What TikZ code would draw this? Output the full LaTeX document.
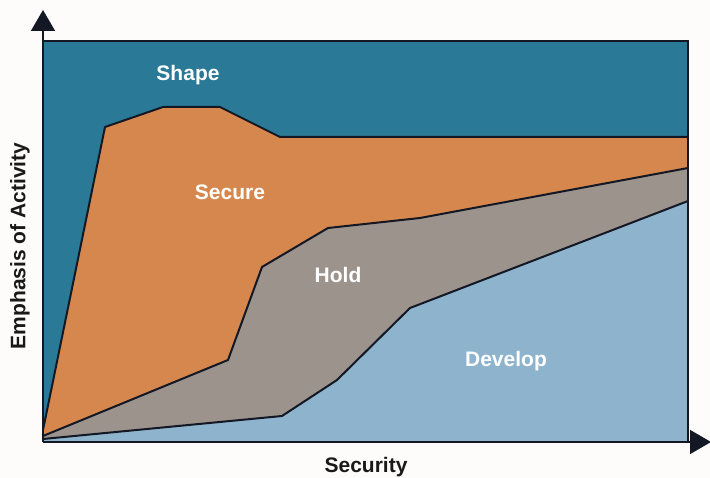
\documentclass[tikz,border=0pt]{standalone}
\usepackage{fontspec}
\setmainfont{Liberation Sans}
\usetikzlibrary{arrows.meta}
\definecolor{bgc}{HTML}{FDFCFA}
\definecolor{shapec}{HTML}{2A7A97}
\definecolor{securec}{HTML}{D6874D}
\definecolor{holdc}{HTML}{9C938D}
\definecolor{developc}{HTML}{8DB4CC}
\definecolor{edgec}{HTML}{141824}
\tikzset{
  boundary/.style={draw=edgec, line width=2pt, line join=round},
  lab/.style={text=white, font=\fontsize{21}{25}\selectfont\bfseries, inner sep=0pt},
  axlab/.style={text=black!90, font=\fontsize{21}{25}\selectfont\bfseries, inner sep=0pt},
  axis/.style={draw=edgec, line width=1.6pt, -{Triangle[width=24pt,length=21pt]}}
}
\begin{document}
\begin{tikzpicture}[x=1pt,y=-1pt]
\fill[bgc] (0,0) rectangle (710,478);
\useasboundingbox (0,0) rectangle (710,478);
% regions
\fill[shapec] (43,41) rectangle (688,442);
\fill[securec] (43,430) -- (105,127) -- (163,107) -- (220,107) -- (280,137) -- (688,137) -- (688,442) -- (43,442) -- cycle;
\fill[holdc] (43,436) -- (228,360) -- (262,267) -- (328,228) -- (420,218) -- (688,168) -- (688,442) -- (43,442) -- cycle;
\fill[developc] (43,439) -- (282,416) -- (337,380) -- (410,308) -- (688,201) -- (688,442) -- (43,442) -- cycle;
% boundaries
\draw[boundary] (43,430) -- (105,127) -- (163,107) -- (220,107) -- (280,137) -- (688,137);
\draw[boundary] (43,436) -- (228,360) -- (262,267) -- (328,228) -- (420,218) -- (688,168);
\draw[boundary] (43,439) -- (282,416) -- (337,380) -- (410,308) -- (688,201);
% frame
\draw[draw=edgec, line width=1.6pt] (43,41) -- (688,41) -- (688,442);
% axes
\coordinate (org) at (43,442);
\coordinate (ytip) at (43,10);
\coordinate (xtip) at (711,442);
\draw[axis] (org) -- (ytip);
\draw[axis] (org) -- (xtip);
% labels
\node[lab] (shape) at (188,75) {Shape};
\node[lab] (secure) at (230,192) {Secure};
\node[lab] (hold) at (338,275) {Hold};
\node[lab] (develop) at (506,361) {Develop};
\node[axlab] (xl) at (366,467) {Security};
\node[axlab, rotate=90] (yl) at (20,246) {Emphasis of Activity};
\end{tikzpicture}
\end{document}
